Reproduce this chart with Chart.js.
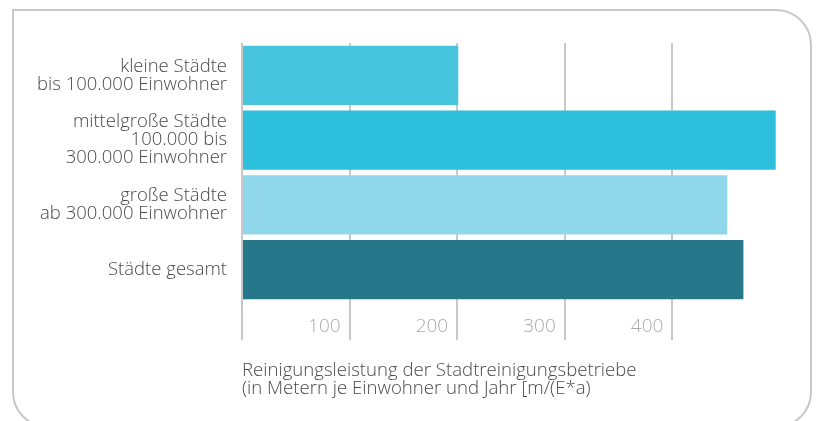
<!DOCTYPE html>
<html><head><meta charset="utf-8">
<script src="https://cdn.jsdelivr.net/npm/chart.js@4"></script>
<style>
html,body{margin:0;padding:0;background:#fff;overflow:hidden}
#wrap{position:absolute;left:0;top:0;width:817px;height:421px}
#frame{position:absolute;left:12px;top:9px;width:796px;height:415px;border:2px solid #c8c8cb;border-radius:0 36px 36px 36px}
canvas{position:absolute;left:0;top:0}
</style></head>
<body><div id="wrap"><div id="frame"></div><canvas id="c" width="817" height="421"></canvas></div>
<script>
const categories = [
  ["kleine Städte","bis 100.000 Einwohner"],
  ["mittelgroße Städte","100.000 bis","300.000 Einwohner"],
  ["große Städte","ab 300.000 Einwohner"],
  ["Städte gesamt"]
];
const values = [201, 496, 451, 466];
const barColors = ["#48c5de", "#2dbfdc", "#91d7ec", "#267789"];
const tickValues = [100, 200, 300, 400];
const axisTitle = ["Reinigungsleistung der Stadtreinigungsbetriebe","(in Metern je Einwohner und Jahr [m/(E*a)"];

const FONT = "'Open Sans', sans-serif";
const gridCol = (c) => (c.tick && c.tick.value === 500) ? 'rgba(0,0,0,0)' : '#c8c8c8';

new Chart(document.getElementById('c'), {
  type: 'bar',
  data: {
    labels: categories,
    datasets: [{ data: values, backgroundColor: barColors, borderWidth: 0,
      categoryPercentage: 1, barPercentage: 0.912 }]
  },
  options: {
    indexAxis: 'y',
    responsive: false,
    animation: false,
    events: [],
    layout: { padding: { left: 0, right: 37, top: 43, bottom: 23 } },
    plugins: { legend: { display: false }, tooltip: { enabled: false } },
    scales: {
      x: {
        min: 0, max: 500,
        afterFit: (s) => { s.height = 96; },
        afterBuildTicks: (s) => { s.ticks = [0].concat(tickValues, [500]).map(v => ({value: v})); },
        border: { display: false },
        grid: { color: gridCol, tickColor: gridCol, lineWidth: 2, drawTicks: true, tickLength: 38 },
        ticks: {
          align: 'end', labelOffset: -9, padding: -25, maxRotation: 0, autoSkip: false,
          color: '#ababab', font: { family: FONT, size: 19, weight: 300 },
          callback: (v) => tickValues.includes(v) ? String(v) : ''
        },
        title: {
          display: true, align: 'start', text: axisTitle, color: '#4a4a4a',
          font: { family: FONT, size: 18.6, weight: 300, lineHeight: '18px' },
          padding: { top: 0, bottom: 0 }
        }
      },
      y: {
        afterFit: (s) => { s.width = 242; },
        border: { display: false },
        grid: { display: false, drawTicks: false },
        ticks: { padding: 15, color: '#4a4a4a', font: { family: FONT, size: 18.5, weight: 300, lineHeight: '18px' } }
      }
    }
  }
});
</script></body></html>
